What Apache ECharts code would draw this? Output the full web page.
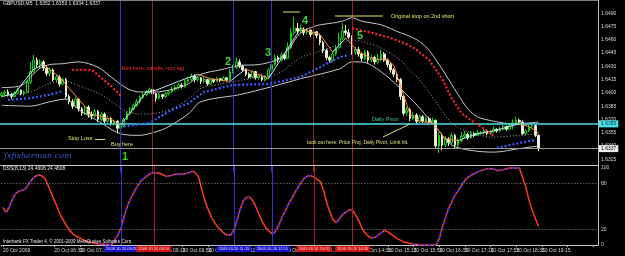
<!DOCTYPE html>
<html>
<head>
<meta charset="utf-8">
<script src="https://cdn.jsdelivr.net/npm/echarts@6/dist/echarts.min.js"></script>
<style>
  html, body { margin: 0; background: #000; }
  #chart { width: 625px; height: 256px; }
</style>
</head>
<body>
<div id="chart"></div>
<script>
// GBPUSD M5, 20 Oct 2009. prices kept as pips above 1.6300
const BASE = 1.63;

const opens = [
  97,99,101,98,96,100,103,99,101,112, 124,137,132,135,128,122,126,115,118,110,
  115,96,90,85,93,82,77,84,76,74, 79,70,76,68,71,66,68,60,63,70,
  77,82,86,90,95,98,101,104,99,94, 98,96,99,101,104,106,109,107,113,115,
  119,115,117,113,115,110,115,113,116,114, 117,115,124,129,135,130,126,121,118,124,
  117,119,115,118,126,132,140,137,143,139, 151,168,173,170,172,168,171,166,169,165,
  157,148,140,137,144,151,162,170,168,163, 146,149,144,139,146,137,140,135,138,144,
  137,132,126,121,115,96,77,81,71,75, 68,73,68,71,67,69,40,52,41,48,
  44,52,41,46,51,53,49,54,52,55, 55,57,54,56,59,57,59,62,59,63,
  66,69,67,54,57,62,63,52
];
const closes = [
  99,101,98,96,100,103,99,101,112,124, 137,132,135,128,122,126,115,118,110,115,
  96,90,85,93,82,77,84,76,74,79, 70,76,68,71,66,68,60,63,70,77,
  82,86,90,95,98,101,104,99,94,98, 96,99,101,104,106,109,107,113,115,119,
  115,117,113,115,110,115,113,116,114,117, 115,124,129,135,130,126,121,118,124,117,
  119,115,118,126,132,140,137,143,139,151, 168,173,170,172,168,171,166,169,165,157,
  148,140,137,144,151,162,170,168,163,146, 149,144,139,146,137,140,135,138,144,137,
  132,126,121,115,96,77,81,71,75,68, 73,68,71,67,69,40,52,41,48,44,
  52,41,46,51,53,49,54,52,55,55, 57,54,56,59,57,59,62,59,63,66,
  69,67,54,57,62,63,52,37
];
const lows = [
  95,97,96,93,95,99,97,97,100,110, 122,129,128,125,119,119,113,112,107,108,
  93,87,82,83,79,74,75,72,70,72, 67,68,65,66,63,63,54,56,61,69,
  75,80,84,88,93,96,99,97,90,92, 93,94,97,100,102,104,105,106,111,113,
  112,113,110,111,108,109,111,112,112,113, 113,114,122,127,128,124,119,116,117,115,
  115,113,113,117,124,130,134,135,137,138, 149,165,167,168,165,166,163,164,162,154,
  145,137,134,135,142,150,160,165,161,143, 143,141,136,137,134,135,132,133,136,135,
  129,123,118,112,92,74,74,68,69,65, 66,66,66,65,66,38,32,35,39,40,
  42,37,38,44,49,47,48,50,51,53, 53,52,52,55,55,56,58,57,58,59,
  64,65,52,52,56,60,50,34
];
const highs = [
  101,103,104,100,102,106,104,103,114,135, 143,140,138,137,130,129,128,121,120,117,
  117,98,93,95,94,84,86,86,79,82, 81,78,78,74,73,70,69,65,72,79,
  84,88,93,97,100,103,106,106,100,100, 99,101,103,107,109,111,111,115,118,122,
  121,119,118,118,116,117,116,118,117,119, 118,127,132,140,138,132,128,123,126,125,
  121,121,120,128,136,143,142,146,145,157, 173,186,179,177,174,173,172,171,170,167,
  159,150,142,147,154,168,179,177,172,165, 152,152,146,149,148,143,142,144,149,146,
  139,134,128,123,117,98,84,83,78,77, 75,75,73,73,72,70,55,54,51,50,
  55,54,49,56,57,55,57,56,58,57, 59,59,58,62,60,62,64,63,65,70,
  73,71,69,59,64,65,64,53
];

// indicator readings: [bar index, pips]
const upperBand = [[0,106],[6,108],[9,118],[12,128],[15,132],[19,133],[24,135],[30,129],[34,118],[39,105],
  [43,101],[48,101],[53,104],[58,110],[62,121],[68,126],[74,131],[80,132],[86,138],[89,148],[93,168],
  [98,176],[103,179],[106,181],[109,185],[112,181],[118,177],[124,168],[127,164],[130,158],[133,148],
  [137,127],[142,98],[145,82],[148,73],[153,68],[159,65],[167,67]];
const middleBand = [[0,96],[9,101],[15,111],[20,113],[24,108],[31,98],[35,88],[39,79],[43,76],[48,77],
  [53,82],[58,93],[62,105],[68,110],[74,114],[80,118],[86,122],[93,140],[98,146],[103,152],[109,160],
  [112,158],[118,151],[124,137],[127,125],[130,115],[136,85],[140,66],[146,55],[153,50],[161,52],[167,54]];
const lowerBand = [[0,86],[9,85],[15,90],[20,93],[24,81],[31,66],[35,57],[38,53],[43,52],[46,54],[51,60],
  [58,76],[62,90],[74,98],[84,107],[93,116],[105,127],[109,135],[112,135],[118,124],[124,105],[130,83],
  [136,57],[140,41],[146,35],[153,33],[161,37],[167,40]];
const fastMA = [[0,96],[4,99],[10,127],[13,132],[18,118],[21,105],[28,76],[34,70],[37,64],[45,101],[48,103],
  [55,113],[61,121],[65,116],[71,113],[76,127],[83,116],[93,173],[95,170],[99,166],[103,146],[107,162],
  [111,146],[116,138],[120,138],[122,131],[124,109],[127,76],[130,68],[134,66],[138,48],[142,46],[147,53],
  [153,57],[161,65],[164,62],[167,55]];
const blueStops = [
  [[2,92],[9,94],[15,98],[19,102]],
  [[38,62],[46,66],[52,79],[58,88],[63,101],[72,109],[83,110],[93,118],[99,129],[105,140],[108,143]],
  [[154,38],[166,47]]
];
const redStops = [
  [[22,126],[28,126],[34,108],[37,97]],
  [[109,173],[115,168],[121,162],[126,155],[129,149],[133,137],[137,116],[140,94],[143,77],[146,69],[149,62],[153,52]],
  [[167,61]]
];

const dss = [
  49,42,50,60,67,70,71,73,79,85, 89,91,90,87,78,68,58,48,38,31,
  24,18,14,11,9,7,5,4,3,2, 1,1,1,0,1,8,14,25,41,53,
  62,70,77,83,87,90,93,94,94,93, 91,89,90,91,92,92,92,93,94,96,
  94,88,72,57,46,36,29,23,19,15, 13,13,19,33,47,58,62,62,57,48,
  38,29,22,18,14,18,26,36,44,53, 60,68,75,82,87,90,90,88,85,82,
  70,54,42,32,29,35,40,43,46,45, 39,31,21,15,11,9,10,13,16,19,
  17,14,11,8,6,4,3,2,1,1, 0,0,0,0,0,0,8,24,36,48,
  57,65,71,78,84,88,91,93,95,97, 98,99,99,99,97,97,98,99,100,100,
  100,100,88,75,58,45,34,24
];
const dssLevels = [20, 80];

const pivot = 1.6365;
const bid = 1.6337;
const blueLines = [37, 72, 84];
const redLines = [47, 97, 109];
const lineTimes = { 37: '2009.10.20 08:20', 47: '2009.10.20 09:10', 72: '2009.10.20 11:15',
  84: '2009.10.20 12:15', 97: '2009.10.20 13:20', 109: '2009.10.20 14:20' };

const timeLabels = ['20 Oct 2009','20 Oct 05:55','20 Oct 06:35','20 Oct 07:15','20 Oct 07:55','20 Oct 08:35',
  '20 Oct 09:15','20 Oct 09:55','20 Oct 10:35','20 Oct 11:15','20 Oct 11:55','20 Oct 12:35','20 Oct 13:15',
  '20 Oct 13:55','20 Oct 14:35','20 Oct 15:15','20 Oct 15:55','20 Oct 16:35','20 Oct 17:15','20 Oct 17:55',
  '20 Oct 18:35','20 Oct 19:15'];

const FONT = '"Liberation Sans", Arial, sans-serif';
const CYAN = '#b8ecf5', ORANGE = '#ff8a3c';
const BLUE_V = '#3232cc', RED_V = '#a02222';
const px = v => +(BASE + v / 10000).toFixed(4);
const pts = arr => arr.map(p => [p[0], px(p[1])]);

const N = 186;
const cats = Array.from({ length: N }, (_, i) => String(i));
const everyEighth = idx => idx % 8 === 0;

const candles = opens.map((o, i) => [px(o), px(closes[i]), px(lows[i]), px(highs[i])]);

// blue signal dots on rising parts of the DSS
const dssUp = dss.map((v, i) =>
  ((i < dss.length - 1 && dss[i + 1] >= v) || (i > 0 && v >= dss[i - 1])) ? v : null);

const maPieces = [];
for (let k = 0; k < fastMA.length - 1; k++) {
  const up = fastMA[k + 1][1] > fastMA[k][1];
  maPieces.push({ gte: fastMA[k][0], lt: fastMA[k + 1][0], color: up ? CYAN : ORANGE });
}
maPieces.push({ gte: fastMA[fastMA.length - 1][0], color: ORANGE });

const stopSeries = (seg, color) => ({
  type: 'line', xAxisIndex: 0, yAxisIndex: 0, symbol: 'none', silent: true, z: 6,
  data: seg.map((p, k) => k === 0
    ? { value: [p[0], px(p[1])], symbol: 'rect', symbolSize: 3.5 }
    : [p[0], px(p[1])]),
  lineStyle: { color, width: 2.2, type: [2, 2] },
  itemStyle: { color }
});

const vLine = (idx, color, withLabel) => ({
  xAxis: idx,
  lineStyle: { color, width: 1, type: 'solid' },
  label: withLabel ? {
    show: true, position: 'start', distance: 1, formatter: lineTimes[idx],
    color: '#f4d8d8', fontSize: 4, fontFamily: FONT,
    backgroundColor: color === BLUE_V ? '#1212d2' : '#d21212', padding: [1, 2]
  } : { show: false }
});

const hLine = (value, color, width, bg, fg) => ({
  yAxis: value, lineStyle: { color, width, type: 'solid' },
  label: { show: true, position: 'end', distance: 1, formatter: value.toFixed(4), color: fg,
    backgroundColor: bg, fontSize: 5, fontFamily: FONT, padding: [1, 2] }
});

const series = [];
series.push({
  type: 'candlestick', xAxisIndex: 0, yAxisIndex: 0, data: candles, barWidth: 2.2, z: 3,
  itemStyle: { color: '#000', color0: '#f4f4dc', borderColor: '#14d214', borderColor0: '#e8eccc', borderWidth: 1 }
});
// vertical marker lines, top pane
series.push({
  type: 'line', xAxisIndex: 0, yAxisIndex: 0, data: [], silent: true, z: 2,
  markLine: {
    silent: true, symbol: ['none', 'none'], animation: false,
    data: [...blueLines.map(i => vLine(i, BLUE_V, false)), ...redLines.map(i => vLine(i, RED_V, false))]
  }
});
series.push({ type: 'line', xAxisIndex: 0, yAxisIndex: 0, data: pts(upperBand), smooth: 0.3, symbol: 'none',
  silent: true, z: 4, lineStyle: { color: '#c8c8c8', width: 1 },
  markLine: {
    silent: true, symbol: ['none', 'none'], animation: false, precision: 4,
    data: [
      hLine(bid, '#9a9a9a', 1, '#f0f0f0', '#000'),
      hLine(pivot, '#48e0e8', 1.5, '#48e0e8', '#003040')
    ]
  }
});
series.push({ type: 'line', xAxisIndex: 0, yAxisIndex: 0, data: pts(lowerBand), smooth: 0.3, symbol: 'none',
  silent: true, z: 4, lineStyle: { color: '#c8c8c8', width: 1 } });
series.push({ type: 'line', xAxisIndex: 0, yAxisIndex: 0, data: pts(middleBand), smooth: 0.3, symbol: 'none',
  silent: true, z: 4, lineStyle: { color: '#a8a8a8', width: 1, type: [1, 2] } });
const maIndex = series.length;
series.push({ type: 'line', xAxisIndex: 0, yAxisIndex: 0, data: pts(fastMA), symbol: 'none',
  silent: true, z: 5, lineStyle: { width: 1 } });
blueStops.forEach(seg => series.push(stopSeries(seg, '#3c5cff')));
redStops.forEach(seg => series.push(stopSeries(seg, '#ff2424')));

// vertical marker lines and time boxes, oscillator pane
series.push({
  type: 'line', xAxisIndex: 1, yAxisIndex: 1, data: [], silent: true, z: 2,
  markLine: {
    silent: true, symbol: ['none', 'none'], animation: false,
    data: [...blueLines.map(i => vLine(i, BLUE_V, true)), ...redLines.map(i => vLine(i, RED_V, true))]
  }
});
series.push({
  type: 'line', xAxisIndex: 1, yAxisIndex: 1, data: dss, symbol: 'none', silent: true, z: 4,
  lineStyle: { color: '#ff3a22', width: 1.5 },
  markLine: {
    silent: true, symbol: ['none', 'none'], animation: false,
    data: dssLevels.map(v => ({ yAxis: v, lineStyle: { color: '#8c8c8c', width: 1, type: [1, 2] }, label: { show: false } }))
  }
});
series.push({ type: 'line', xAxisIndex: 1, yAxisIndex: 1, data: dssUp, symbol: 'none', silent: true, z: 5,
  lineStyle: { color: '#2a2aff', width: 2, type: [2, 3] } });

const txt = (text, x, y, fill, font, extra) => ({
  type: 'text', x, y, silent: true, z: 50,
  style: Object.assign({ text, fill, font, verticalAlign: 'middle' }, extra || {})
});
const seg = (x1, y1, x2, y2, stroke) => ({
  type: 'line', silent: true, z: 50, shape: { x1, y1, x2, y2 }, style: { stroke, lineWidth: 1 }
});
const small = '5px ' + FONT;
const mid = '5.5px ' + FONT;
const big = 'bold 11px ' + FONT;

const option = {
  backgroundColor: '#000',
  animation: false,
  grid: [
    { left: 0, right: 27, top: -3.5, height: 176 },
    { left: 0, right: 27, top: 165, height: 80 }
  ],
  xAxis: [
    { gridIndex: 0, type: 'category', data: cats, boundaryGap: true, show: false },
    { gridIndex: 1, type: 'category', data: cats, boundaryGap: true,
      axisLine: { lineStyle: { color: '#c0c0c0', width: 1 } },
      axisTick: { show: true, interval: everyEighth, alignWithLabel: true, length: 2, lineStyle: { color: '#c0c0c0' } },
      axisLabel: { interval: everyEighth, showMinLabel: true, hideOverlap: false,
        formatter: (v, idx) => timeLabels[idx / 8] || '',
        color: '#d8d8d8', fontSize: 5, fontFamily: FONT, align: 'left', margin: 3 } }
  ],
  yAxis: [
    { gridIndex: 0, type: 'value', position: 'right', min: 1.6310, max: 1.6505, interval: 0.0015,
      splitLine: { show: false }, axisTick: { show: false },
      axisLine: { show: true, lineStyle: { color: '#c0c0c0' } },
      axisLabel: { formatter: v => (v < 1.6320 || v > 1.6495) ? '' : v.toFixed(4),
        color: '#d8d8d8', fontSize: 5, fontFamily: FONT, margin: 3 } },
    { gridIndex: 1, type: 'value', position: 'right', min: 0, max: 104, interval: 4,
      splitLine: { show: false }, axisTick: { show: false },
      axisLine: { show: true, lineStyle: { color: '#c0c0c0' } },
      axisLabel: { formatter: v => [0, 20, 80, 100].includes(Math.round(v)) ? String(Math.round(v)) : '',
        color: '#d8d8d8', fontSize: 5, fontFamily: FONT, margin: 3 } }
  ],
  visualMap: [{ type: 'piecewise', show: false, seriesIndex: maIndex, dimension: 0, pieces: maPieces }],
  series,
  graphic: [
    seg(0, 165.5, 598, 165.5, '#c8c8c8'),
    seg(0, 0.5, 598, 0.5, '#808080'),
    txt('GBPUSD,M5  1.6352 1.6353 1.6334 1.6337', 3, 4, '#e8e8e8', small),
    txt('Exit here, candle, non lag', 122, 68, '#ff2a2a', mid),
    seg(283, 12, 300, 12, '#e6e65a'),
    seg(335, 16, 383, 16, '#e6e65a'),
    txt('Original stop on 2nd short', 391, 16, '#e6e65a', mid),
    txt('2', 228, 62, '#3cd23c', big, { align: 'center' }),
    txt('3', 268, 53, '#3cd23c', big, { align: 'center' }),
    txt('4', 305, 21, '#3cd23c', big, { align: 'center' }),
    txt('5', 360, 36, '#3cd23c', big, { align: 'center' }),
    txt('1', 125, 157, '#28d828', big, { align: 'center' }),
    txt('Stop Loss', 68, 138, '#e0e07a', mid),
    seg(95, 139.5, 105, 139.5, '#e0e07a'),
    txt('Buy here', 111, 144, '#e0e07a', mid),
    txt('fxfisherman.com', 4, 156, '#3a5cd0', 'italic 8px "DejaVu Serif", serif'),
    txt('Daily Pivot', 372, 119.5, '#40c8a0', mid),
    seg(383, 137, 410, 124, '#e0e07a'),
    txt('took out here. Price Proj, Daily Pivot, Limit hit.', 307, 143, '#e0e07a', small),
    txt('DSS(8,13) 24.4608 24.4608', 3, 169, '#e8e8e8', small),
    txt('Interbank FX Trader 4, \u00a9 2001-2009 MetaQuotes Software Corp.', 3, 242, '#e8e8e8', '4.5px ' + FONT)
  ]
};

const chart = echarts.init(document.getElementById('chart'));
chart.setOption(option);
</script>
</body>
</html>
